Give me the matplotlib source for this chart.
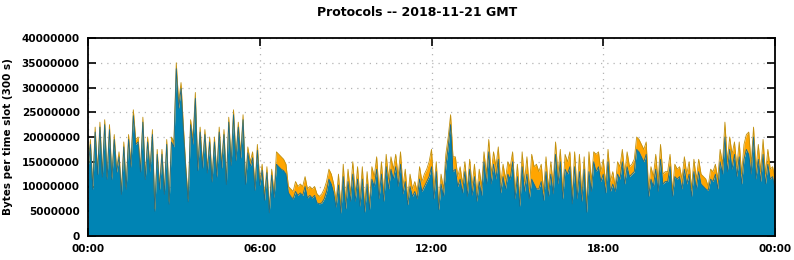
import numpy as np
import matplotlib.pyplot as plt
from matplotlib.ticker import FuncFormatter

# total bytes per 5-minute slot (millions), 00:00 .. 24:00
total_mb = [
    14, 19.5, 10, 22, 13, 23, 12.5, 23.5, 12, 22.5, 12, 20.5,
    13.5, 17, 9, 19, 10, 20.5, 14.5, 25.5, 19.5, 20, 13.5, 24,
    12, 20, 13.5, 21.5, 5.5, 17.5, 10, 17.5, 9, 19.5, 7, 20,
    19, 35, 27, 31, 22, 14, 7.5, 23.5, 19.5, 29, 14, 22,
    14.5, 21.5, 13.5, 20, 11.5, 20, 12.5, 22, 14.5, 21.5, 11, 24,
    15, 25.5, 16, 23, 16.5, 24.5, 11, 18, 15, 17, 10, 18.5,
    11, 14.5, 8, 14, 5.5, 13.5, 8.5, 17, 16.5, 16, 15.5, 14.5,
    10, 9.5, 9, 11, 10, 10.5, 10, 12, 9.5, 10, 9.5, 10,
    8.5, 8, 8.5, 9.5, 11, 13.5, 12.5, 10.5, 7, 12.5, 5.8, 14.5,
    7, 13.5, 8.5, 15, 8.5, 14, 7.5, 14, 6, 13, 6.5, 14,
    12, 16, 9, 15, 8.5, 16.5, 11.5, 16, 13.5, 16.5, 12, 17,
    10, 13.5, 7.5, 12.5, 9.5, 11, 9, 14, 11, 12.5, 13.5, 15,
    17.5, 9.5, 15, 6.5, 12.5, 9.5, 16.5, 20, 24.5, 16, 16, 12,
    14, 10.5, 15, 9.5, 15.5, 10, 14.5, 8.5, 13.5, 10, 17, 12.5,
    19.5, 12.5, 17, 14, 18, 10.5, 14.5, 11.5, 15, 14, 17, 9,
    14.5, 7.5, 17, 11, 16, 9.5, 16.5, 14, 14.5, 13, 14.5, 9,
    16, 9.5, 15, 10.5, 19, 12.5, 17.5, 9, 16.5, 15, 17, 8,
    17, 9, 16.5, 8.5, 16, 6, 17, 11, 17, 16.5, 17, 13,
    15.5, 10.5, 17.5, 11, 13, 10, 15, 14, 17.5, 12.5, 17, 14,
    14.5, 15.5, 20, 19.5, 18.5, 17.5, 19, 9.5, 14, 12, 16.5, 11,
    18.5, 12.5, 13, 13, 16.5, 9, 14.5, 13.5, 14, 11.5, 16, 12.5,
    15, 9.5, 15.5, 11.5, 15.5, 12.5, 12, 11.5, 10, 13.5, 13, 14.5,
    11.5, 17.5, 14.5, 23, 15, 20, 16.5, 19, 14, 19, 12.5, 18.5,
    20.5, 21, 14.5, 22, 13.5, 18.5, 13, 19.5, 12.5, 17.5, 13.5, 14,
    11.5,
]

# second protocol (orange, stacked on top), millions
udp_mb = [
    0.6, 1.0, 0.6, 1.0, 0.6, 1.0, 0.6, 1.0, 0.6, 1.0, 0.6, 1.0,
    0.6, 1.0, 0.6, 1.0, 0.6, 1.0, 0.6, 1.2, 1.0, 1.0, 0.6, 1.0,
    0.6, 1.0, 0.6, 1.0, 0.5, 1.0, 0.6, 1.0, 0.6, 1.0, 0.6, 1.0,
    1.0, 1.2, 1.2, 1.2, 1.0, 0.8, 0.6, 1.0, 1.0, 1.2, 0.8, 1.0,
    0.8, 1.0, 0.8, 1.0, 0.6, 1.0, 0.6, 1.0, 0.8, 1.0, 0.6, 1.0,
    0.8, 1.0, 0.8, 1.0, 0.8, 1.0, 0.6, 1.2, 1.0, 1.2, 0.8, 1.2,
    0.8, 1.2, 0.8, 1.2, 0.8, 1.2, 0.8, 2.5, 2.5, 2.5, 2.3, 2.0,
    1.2, 1.5, 1.5, 2.0, 1.8, 1.8, 1.8, 2.0, 1.8, 1.8, 1.8, 1.8,
    1.8, 1.5, 1.8, 2.0, 2.0, 2.0, 2.0, 1.8, 1.2, 2.2, 1.2, 2.5,
    1.5, 2.5, 1.5, 2.5, 1.5, 2.5, 1.5, 2.5, 1.2, 2.5, 1.2, 2.5,
    2.0, 2.5, 1.5, 2.5, 1.5, 2.5, 2.0, 2.5, 2.0, 2.5, 2.0, 2.5,
    1.5, 2.5, 1.2, 2.5, 1.5, 2.0, 1.5, 2.5, 2.0, 2.5, 2.5, 3.0,
    3.5, 2.0, 2.0, 1.2, 2.0, 1.5, 2.5, 2.0, 2.0, 3.0, 2.5, 2.0,
    2.5, 1.8, 2.0, 1.5, 2.0, 1.8, 2.5, 1.5, 2.5, 1.8, 2.0, 2.0,
    2.5, 2.0, 2.5, 2.5, 2.5, 1.8, 2.5, 2.0, 2.5, 2.5, 2.0, 1.5,
    2.5, 1.5, 3.0, 2.0, 3.5, 2.0, 5.0, 3.5, 5.0, 3.5, 3.5, 1.8,
    3.0, 1.5, 2.5, 2.0, 2.5, 2.0, 2.5, 1.5, 3.0, 2.5, 3.0, 1.5,
    3.0, 1.5, 3.5, 1.5, 2.5, 1.2, 4.0, 2.0, 2.0, 3.5, 3.0, 2.0,
    3.0, 1.8, 2.5, 2.0, 2.5, 1.0, 2.5, 2.5, 2.5, 2.0, 3.0, 2.0,
    2.0, 2.5, 2.5, 2.5, 2.5, 2.5, 2.5, 1.5, 2.5, 2.0, 3.0, 2.0,
    3.0, 2.0, 2.0, 2.0, 2.5, 1.0, 2.5, 2.0, 2.0, 2.0, 2.5, 2.0,
    2.5, 1.5, 2.5, 2.0, 2.5, 2.0, 2.0, 2.0, 0.8, 2.0, 2.0, 2.0,
    2.0, 2.5, 2.0, 3.0, 2.0, 2.5, 3.0, 2.5, 2.0, 3.0, 2.0, 3.0,
    3.0, 4.5, 2.0, 2.0, 2.0, 3.0, 2.0, 3.0, 2.0, 3.0, 2.0, 2.0,
    2.0,
]

total = np.array(total_mb) * 1e6
udp = np.array(udp_mb) * 1e6
tcp = total - udp
hours = np.arange(len(total)) * 5 / 60

BLUE = '#0084b4'
ORANGE = '#ffa500'

plt.rcParams['font.family'] = ['DejaVu Sans']
plt.rcParams['font.weight'] = 'bold'

fig = plt.figure(figsize=(7.94, 2.60), dpi=100)
ax = fig.add_axes([88 / 794, 1 - 236 / 260, 687 / 794, 198 / 260])

ax.fill_between(hours, 0, tcp, color=BLUE, linewidth=0, zorder=2)
ax.fill_between(hours, tcp, total, color=ORANGE, linewidth=0, zorder=2)
ax.plot(hours, total, color='#c0900f', linewidth=0.6, zorder=3)
ax.plot(hours, tcp, color='#1c6a88', linewidth=0.6, zorder=3)

ax.set_xlim(0, 24)
ax.set_ylim(0, 40e6)
ax.set_xticks([0, 6, 12, 18, 24])
ax.set_xticklabels(['00:00', '06:00', '12:00', '18:00', '00:00'])
ax.set_yticks(np.arange(0, 40e6 + 1, 5e6))
ax.yaxis.set_major_formatter(FuncFormatter(lambda v, p: f'{int(v)}'))

ax.grid(True, color='#b4b4b4', linestyle=(0, (1, 4)), linewidth=0.9, zorder=1)
ax.set_axisbelow(True)
ax.tick_params(direction='in', length=6, width=1.2, top=True, right=True,
               labelsize=7.5, pad=6)
for s in ax.spines.values():
    s.set_linewidth(1.3)
    s.set_zorder(5)

ax.set_ylabel('Bytes per time slot (300 s)', fontsize=7.5, fontweight='bold', labelpad=6)
fig.text(0.525, 1 - 12 / 260, 'Protocols -- 2018-11-21 GMT', ha='center', va='center',
         fontsize=9, fontweight='bold')

plt.savefig('out.png', dpi=100)
